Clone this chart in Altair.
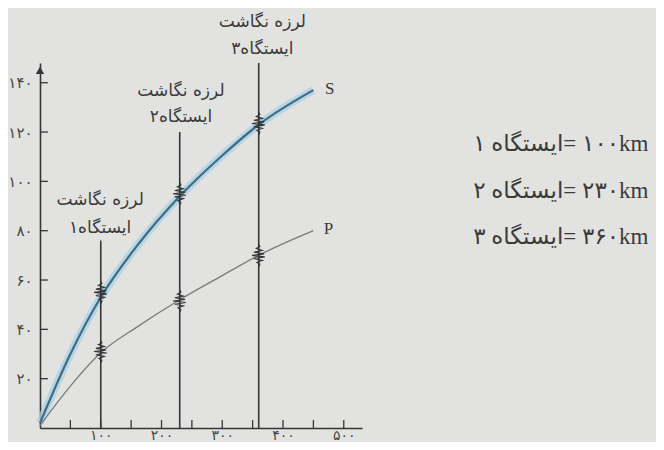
import altair as alt
import pandas as pd

# ---------------- data ----------------
dist_km = [0, 50, 100, 160, 230, 300, 360, 450]
s_time = [2, 30, 53, 74, 94, 110.5, 123, 137]
p_time = [1, 17, 30.5, 41, 52, 61.8, 70, 80]

station_km = [100, 230, 360]
station_top = [76, 120, 148]
p_arrival = [31, 51.5, 70]
s_arrival = [55, 95, 123.5]

x_tick_vals = [100, 200, 300, 400, 500]
x_tick_labels = ["۱۰۰", "۲۰۰", "۳۰۰", "۴۰۰", "۵۰۰"]
x_minor_ticks = [50, 100, 150, 200, 250, 300, 350, 400, 450, 500]
y_tick_vals = [20, 40, 60, 80, 100, 120, 140]
y_tick_labels = ["۲۰", "۴۰", "۶۰", "۸۰", "۱۰۰", "۱۲۰", "۱۴۰"]

station_line1 = ["لرزه نگاشت", "لرزه نگاشت", "لرزه نگاشت"]
station_line2 = ["ایستگاه۱", "ایستگاه۲", "ایستگاه۳"]
label_y1 = [92.5, 136.5, 164.5]
label_y2 = [81, 126, 153.5]
label_x = [99, 232, 366]

legend_lines = ["ایستگاه ۱\u200E= ۱۰۰km", "ایستگاه ۲\u200E= ۲۳۰km", "ایستگاه ۳\u200E= ۳۶۰km"]
legend_y = [115, 96, 77.5]
legend_x = [713, 713, 713]

# burst (wiggle) shape around an arrival: offsets in km / seconds
burst_dx = [0, 2, -3, 6, -8, 10, -11, 9, -8, 6, -4, 2, 0]
burst_dy = [-4.5, -3.6, -2.8, -2.0, -1.3, -0.6, 0, 0.6, 1.3, 2.0, 2.8, 3.6, 4.5]

# ---------------- tables ----------------
curves = pd.DataFrame(
    {"x": dist_km * 2, "y": s_time + p_time, "wave": ["S"] * len(dist_km) + ["P"] * len(dist_km)}
)
s_df = curves[curves.wave == "S"]
p_df = curves[curves.wave == "P"]

stations = pd.DataFrame({"x": station_km, "y": [0] * 3, "y2": station_top})

rows = []
for i, sx in enumerate(station_km):
    for kind, arr in (("P", p_arrival[i]), ("S", s_arrival[i])):
        for j, (dx, dy) in enumerate(zip(burst_dx, burst_dy)):
            rows.append({"x": sx + dx, "y": arr + dy, "key": f"{i}{kind}", "o": j})
bursts = pd.DataFrame(rows)

xticks = pd.DataFrame({"x": x_minor_ticks, "y": [0] * len(x_minor_ticks), "y2": [3.2] * len(x_minor_ticks)})
yticks = pd.DataFrame({"x": [0] * len(y_tick_vals), "x2": [13] * len(y_tick_vals), "y": y_tick_vals})

st_labels = pd.DataFrame(
    {"x": label_x * 2, "y": label_y1 + label_y2, "t": station_line1 + station_line2}
)
wave_labels = pd.DataFrame({"x": [469, 467], "y": [137.5, 80.5], "t": ["S", "P"]})
legend = pd.DataFrame({"x": legend_x, "y": legend_y, "t": legend_lines})
arrow = pd.DataFrame({"x": [0], "y": [145]})

# ---------------- encodings ----------------
def expr(vals, labels):
    s = ""
    for v, l in zip(vals, labels):
        s += f"datum.value == {v} ? '{l}' : "
    return s + "''"

INK = "#353535"
xs = alt.Scale(domain=[0, 530], nice=False, zero=False)
ys = alt.Scale(domain=[0, 148], nice=False, zero=False)
xa = alt.Axis(values=x_tick_vals, labelExpr=expr(x_tick_vals, x_tick_labels), ticks=False, grid=False,
              domainColor=INK, domainWidth=1.6, labelColor="#444", labelFont="DejaVu Sans",
              labelFontSize=14, labelPadding=0, title=None, labelFlush=False)
ya = alt.Axis(values=y_tick_vals, labelExpr=expr(y_tick_vals, y_tick_labels), ticks=False, grid=False,
              domainColor=INK, domainWidth=1.6, labelColor="#444", labelFont="DejaVu Sans",
              labelFontSize=15, labelPadding=8, title=None, labelFlush=False)

X = alt.X("x:Q", scale=xs, axis=xa)
Y = alt.Y("y:Q", scale=ys, axis=ya)

s_halo = alt.Chart(s_df).mark_line(color="#a8d0e2", strokeWidth=8, opacity=0.75, interpolate="monotone").encode(x=X, y=Y)
s_line = alt.Chart(s_df).mark_line(color="#3f6b84", strokeWidth=2.2, interpolate="monotone").encode(x=X, y=Y)
p_line = alt.Chart(p_df).mark_line(color="#7a7a7a", strokeWidth=1.3, interpolate="monotone").encode(x=X, y=Y)

st_rules = alt.Chart(stations).mark_rule(color=INK, strokeWidth=1.6).encode(x=X, y=Y, y2="y2:Q")
burst_lines = alt.Chart(bursts).mark_line(color=INK, strokeWidth=1.1).encode(
    x=X, y=Y, detail="key:N", order="o:Q")

xt = alt.Chart(xticks).mark_rule(color=INK, strokeWidth=1.3).encode(x=X, y=Y, y2="y2:Q")
yt = alt.Chart(yticks).mark_rule(color=INK, strokeWidth=1.3).encode(x=X, x2="x2:Q", y=Y)
arr = alt.Chart(arrow).mark_point(shape="triangle-up", filled=True, size=70, color=INK, opacity=1).encode(x=X, y=Y)

st_text = alt.Chart(st_labels).mark_text(font="DejaVu Sans", fontSize=17, color="#3a3a3a",
                                         align="center", baseline="middle").encode(x=X, y=Y, text="t:N")
w_text = alt.Chart(wave_labels).mark_text(font="Liberation Serif", fontSize=17, color="#3a3a3a",
                                          align="left", baseline="middle").encode(x=X, y=Y, text="t:N")
lg_text = alt.Chart(legend).mark_text(font="Liberation Serif, DejaVu Sans", fontSize=23, color="#3a3a3a",
                                      align="left", baseline="middle").encode(x=X, y=Y, text="t:N")

chart = alt.layer(
    s_halo, p_line, s_line, st_rules, burst_lines, xt, yt, arr, st_text, w_text, lg_text
).properties(
    width=322, height=365,
    autosize=alt.AutoSizeParams(type="none"),
    padding={"left": 32, "top": 55, "right": 294, "bottom": 14},
).configure(background="#e2e3e1").configure_view(strokeWidth=0)

chart.save("out.html", embed_options={"renderer": "svg", "actions": False})
